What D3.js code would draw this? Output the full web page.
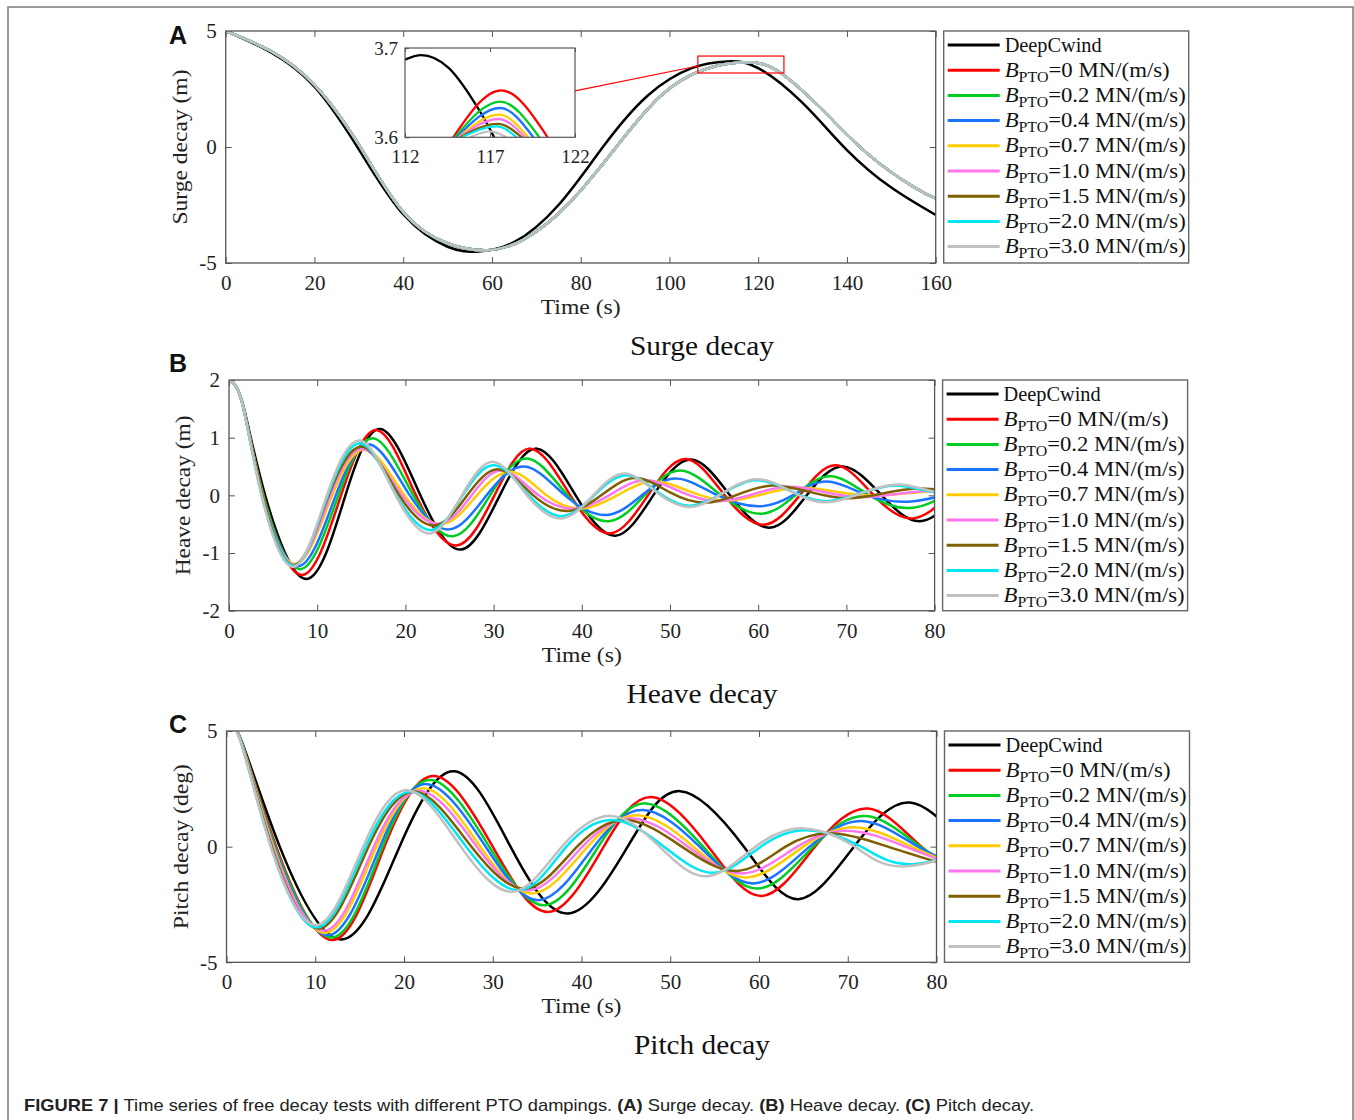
<!DOCTYPE html>
<html><head><meta charset="utf-8">
<script src="https://cdn.jsdelivr.net/npm/d3@7"></script>
<style>body{margin:0;background:#fff;} svg{display:block}</style>
</head><body>
<svg id="fig" width="1354" height="1120"></svg>
<script>
// ---------------- DATA ----------------
const xTicksA = [0,20,40,60,80,100,120,140,160];
const yTicksA = [-5,0,5];
const xTicksBC = [0,10,20,30,40,50,60,70,80];
const yTicksB = [-2,-1,0,1,2];
const yTicksC = [-5,0,5];
const insetXTicks = [112,117,122];
const insetYTicks = [3.6,3.7];
const seriesLabels = ["DeepCwind","0","0.2","0.4","0.7","1.0","1.5","2.0","3.0"];

// Surge decay (t [s], x [m])
const surgeBlack = [[0,5],[10,4.1],[20,2.6],[30,-0.1],[40,-2.9],[50,-4.3],[57,-4.5],[65,-4.1],[75,-2.5],[85,0.0],[95,2.2],[105,3.4],[113,3.69],[120,3.4],[130,1.9],[140,-0.13],[150,-1.75],[160,-2.93]];
const surgeBPTO = [[0,5],[10,4.15],[20,2.68],[30,0.1],[40,-2.8],[50,-4.15],[59,-4.45],[67,-4.0],[77,-2.5],[88,0.0],[98,2.2],[108,3.35],[117.5,3.65],[125,3.2],[135,1.5],[145,-0.35],[155,-1.72],[160,-2.22]];
// inset (zoom of the surge peak)
const insetBlack = [[112,3.687],[112.95,3.692],[114.55,3.678],[115.92,3.644],[117.24,3.6],[117.6,3.585]];
const insetBPTO = [
  [[114.84,3.6],[117.65,3.6526],[120.39,3.6]],
  [[114.94,3.6],[117.6,3.640],[119.9,3.6]],
  [[115.04,3.6],[117.6,3.6328],[119.55,3.6]],
  [[115.14,3.6],[117.55,3.6253],[119.25,3.6]],
  [[115.2,3.6],[117.5,3.6205],[119.05,3.6]],
  [[115.24,3.6],[117.45,3.615],[118.86,3.6]],
  [[115.33,3.6],[117.4,3.6123],[118.57,3.6]],
  [[115.82,3.6],[117.0,3.6067],[117.98,3.6]]
];
const zoomBox = [106.4,125.8,3.19,3.92]; // t0,t1,v0,v1

// Heave decay (t [s], z [m])
const heaveBlack = [[0,2.0],[1.5,1.62],[4.1,0],[8.8,-1.45],[13.2,0],[17.2,1.15],[21.7,0],[26.3,-0.94],[30.7,0],[34.9,0.81],[39.3,0],[43.8,-0.70],[48.1,0],[52.4,0.62],[56.8,0],[61.3,-0.56],[65.5,0],[69.6,0.50],[74.0,0],[78.3,-0.45],[82.6,0]];
const heave0 = [[0,2.0],[1.5,1.6],[3.9,0],[8.3,-1.38],[12.7,0],[16.8,1.13],[21.2,0],[25.8,-0.87],[30.1,0],[34.2,0.81],[38.7,0],[43.2,-0.66],[47.5,0],[51.8,0.63],[56.2,0],[60.6,-0.51],[64.7,0],[68.8,0.52],[73.1,0],[77.4,-0.40],[81.7,0]];
const heave02 = [[0,2.0],[1.5,1.6],[3.9,0],[8.1,-1.28],[12.4,0],[16.4,0.99],[20.9,0],[25.4,-0.71],[29.6,0],[33.8,0.64],[38.4,0],[43.0,-0.45],[47.1,0],[51.2,0.43],[55.8,0],[60.3,-0.32],[64.2,0],[68.2,0.33],[72.6,0],[77.1,-0.22],[81.3,0]];
const heave04 = [[0,2.0],[1.5,1.6],[3.8,0],[7.9,-1.23],[12.1,0],[16.0,0.88],[20.5,0],[25.0,-0.59],[29.2,0],[33.5,0.50],[38.1,0],[42.8,-0.34],[46.8,0],[50.8,0.29],[55.4,0],[60.1,-0.19],[63.9,0],[67.8,0.24],[72.4,0],[77.0,-0.11],[81,0]];
const heave07 = [[0,2.0],[1.5,1.6],[3.8,0],[7.6,-1.19],[11.7,0],[15.6,0.79],[19.9,0],[24.2,-0.50],[28.1,0],[32.0,0.41],[36.0,0],[40.0,-0.23],[44.0,0],[48.0,0.24],[52.2,0.07],[56.4,-0.09],[60.5,0.02],[64.7,0.13],[69.0,0.06],[73.2,0.0],[77,0.04],[81,0.08]];
const heave10 = [[0,2.0],[1.5,1.6],[3.8,0],[7.5,-1.2],[11.5,0],[15.3,0.80],[19.6,0],[23.9,-0.49],[27.5,0],[31.0,0.43],[35.1,0],[39.2,-0.23],[43.1,0],[47.0,0.26],[51.1,0.07],[55.3,-0.10],[59.4,0.02],[63.5,0.15],[67.7,0.05],[72.0,-0.03],[76,0.03],[80,0.09]];
const heave15 = [[0,2.0],[1.5,1.6],[3.8,0],[7.4,-1.21],[11.3,0],[15.2,0.84],[19.3,0],[23.4,-0.52],[27.0,0],[30.6,0.45],[34.5,0],[38.5,-0.27],[42.2,0],[46.0,0.30],[50.0,0.05],[54.0,-0.13],[57.8,0.02],[61.6,0.17],[65.8,0.06],[70.0,-0.05],[74,0.03],[78.0,0.12],[82,0.07]];
const heave20 = [[0,2.0],[1.5,1.6],[3.7,0],[7.4,-1.22],[11.2,0],[15.0,0.90],[19.0,0],[23.0,-0.60],[26.5,0],[30.1,0.52],[34.0,0],[37.8,-0.36],[41.4,0],[45.0,0.35],[48.7,0.05],[52.3,-0.18],[56.0,0.04],[59.8,0.26],[63.6,0.08],[67.4,-0.10],[71.5,0.03],[75.5,0.17],[79.3,0.07],[83,0.0]];
const heave30 = [[0,2.0],[1.5,1.6],[3.7,0],[7.3,-1.24],[11.1,0],[14.9,0.95],[18.9,0],[22.8,-0.66],[26.4,0],[30.0,0.58],[33.8,0],[37.7,-0.40],[41.3,0],[44.8,0.38],[48.5,0.05],[52.3,-0.20],[56.0,0.04],[59.8,0.28],[63.6,0.08],[67.4,-0.12],[71.5,0.03],[75.7,0.19],[79.5,0.08],[83,0.0]];

// Pitch decay (t [s], theta [deg])
const pitchBlack = [[0,5],[1.5,4.75],[6.0,0],[13.0,-4.01],[19.5,0],[25.7,3.26],[32.0,0],[38.5,-2.89],[45.2,0],[51.1,2.40],[58.3,0],[64.4,-2.27],[70.7,0],[77.0,1.91],[83.5,0],[90,-1.8]];
const pitch0 = [[0,5],[1.5,4.72],[5.6,0],[12.0,-4.04],[17.8,0],[23.5,3.05],[30.0,0],[36.3,-2.82],[42.5,0],[47.9,2.15],[54.3,0],[60.3,-2.13],[66.3,0],[72.3,1.65],[78.3,0],[84.3,-1.6]];
const pitch02 = [[0,5],[1.5,4.72],[5.5,0],[11.9,-3.93],[17.6,0],[23.1,2.88],[29.6,0],[35.9,-2.53],[41.9,0],[47.3,1.87],[53.7,0],[59.9,-1.81],[66.1,0],[72.1,1.32],[78.2,0],[84.0,-1.3]];
const pitch04 = [[0,5],[1.5,4.7],[5.4,0],[11.5,-3.83],[17.3,0],[22.7,2.70],[29.2,0],[35.3,-2.31],[41.4,0],[47.0,1.58],[53.3,0],[59.4,-1.59],[65.7,0],[71.8,1.10],[77.9,0],[83.8,-1.05]];
const pitch07 = [[0,5],[1.5,4.7],[5.3,0],[11.2,-3.73],[16.9,0],[22.4,2.52],[28.6,0],[34.6,-2.02],[40.7,0],[46.4,1.36],[52.6,0],[58.6,-1.33],[65.0,0],[71.0,0.83],[77.2,0],[83.0,-0.95]];
const pitch10 = [[0,5],[1.5,4.68],[5.2,0],[11.1,-3.63],[16.6,0],[22.0,2.41],[28.2,0],[34.2,-1.88],[40.1,0],[45.8,1.22],[52.0,0],[58.2,-1.16],[64.3,0],[70.3,0.68],[76.5,0],[82.5,-0.9]];
const pitch15 = [[0,5],[1.5,4.67],[5.1,0],[10.5,-3.54],[16.0,0],[21.4,2.37],[27.6,0],[33.8,-1.81],[39.5,0],[45.1,1.15],[51.3,0],[57.5,-1.05],[63.0,0],[68.4,0.57],[74.5,0],[80.5,-0.72]];
const pitch20 = [[0,5],[1.5,4.66],[5.0,0],[10.3,-3.49],[15.7,0],[21.0,2.37],[27.0,0],[33.1,-1.88],[38.3,0],[43.6,1.15],[49.3,0],[54.9,-1.13],[60.2,0],[65.4,0.71],[71.5,0],[77.5,-0.75],[88,0.5]];
const pitch30 = [[0,5],[1.5,4.65],[5.0,0],[10.2,-3.39],[15.4,0],[20.5,2.44],[26.4,0],[32.3,-1.95],[37.8,0],[43.4,1.33],[48.8,0],[54.1,-1.28],[59.6,0],[65.0,0.79],[70.8,0],[76.5,-0.85],[88,0.4]];

// ---------------- STYLE / LAYOUT ----------------
const colors = ["#000000","#ff0000","#00cc22","#1a74ff","#ffcc00","#ff77ee","#7f6000","#00e6f2","#c0c0c0"];
const serif = "'Liberation Serif','Times New Roman',serif";
const axisColor = "#555";

const panels = [
  {id:"A", left:225.7, right:935.7, top:31, bottom:263, xDomain:[0,160], yDomain:[-5,5], xTicks:xTicksA, yTicks:yTicksA,
   yLabel:"Surge decay (m)", yLabelLen:155, title:"Surge decay", titleLen:144, labelY:44,
   series:[surgeBlack,surgeBPTO,surgeBPTO,surgeBPTO,surgeBPTO,surgeBPTO,surgeBPTO,surgeBPTO,surgeBPTO]},
  {id:"B", left:229, right:934.6, top:380, bottom:610.7, xDomain:[0,80], yDomain:[-2,2], xTicks:xTicksBC, yTicks:yTicksB,
   yLabel:"Heave decay (m)", yLabelLen:160, title:"Heave decay", titleLen:151, labelY:372,
   series:[heaveBlack,heave0,heave02,heave04,heave07,heave10,heave15,heave20,heave30]},
  {id:"C", left:226.5, right:936.5, top:731, bottom:962.3, xDomain:[0,80], yDomain:[-5,5], xTicks:xTicksBC, yTicks:yTicksC,
   yLabel:"Pitch decay (deg)", yLabelLen:165, title:"Pitch decay", titleLen:136, labelY:733,
   series:[pitchBlack,pitch0,pitch02,pitch04,pitch07,pitch10,pitch15,pitch20,pitch30]}
];

const svg = d3.select("#fig");
svg.append("rect").attr("width",1354).attr("height",1120).attr("fill","#fff");
// outer frame
svg.append("path").attr("d","M8,1130V7H1353V1130").attr("fill","none").attr("stroke","#7a7a7a").attr("stroke-width",1.5);

function styleAxis(g, fs){
  g.select(".domain").remove();
  g.selectAll(".tick line").attr("stroke",axisColor).attr("stroke-width",1);
  g.selectAll(".tick text").attr("font-family",serif).attr("font-size",fs).attr("fill","#222");
}

panels.forEach((p,pi)=>{
  const x = d3.scaleLinear().domain(p.xDomain).range([p.left,p.right]);
  const y = d3.scaleLinear().domain(p.yDomain).range([p.bottom,p.top]);
  const W = p.right-p.left, H = p.bottom-p.top;
  const clipId = "clip"+p.id;
  svg.append("clipPath").attr("id",clipId).append("rect").attr("x",p.left).attr("y",p.top).attr("width",W).attr("height",H);

  // axes
  const gx = svg.append("g").attr("transform",`translate(0,${p.bottom})`)
    .call(d3.axisBottom(x).tickValues(p.xTicks).tickSizeInner(-6).tickSizeOuter(0).tickPadding(12).tickFormat(d3.format("d")));
  styleAxis(gx,21);
  const gxt = svg.append("g").attr("transform",`translate(0,${p.top})`)
    .call(d3.axisTop(x).tickValues(p.xTicks).tickSizeInner(-6).tickSizeOuter(0).tickFormat(""));
  styleAxis(gxt,21);
  const gy = svg.append("g").attr("transform",`translate(${p.left},0)`)
    .call(d3.axisLeft(y).tickValues(p.yTicks).tickSizeInner(-6).tickSizeOuter(0).tickPadding(9).tickFormat(d=>String(d)));
  styleAxis(gy,21);
  const gyr = svg.append("g").attr("transform",`translate(${p.right},0)`)
    .call(d3.axisRight(y).tickValues(p.yTicks).tickSizeInner(-6).tickSizeOuter(0).tickFormat(""));
  styleAxis(gyr,21);

  // lines
  const line = d3.line().x(d=>x(d[0])).y(d=>y(d[1])).curve(d3.curveNatural);
  const lg = svg.append("g").attr("clip-path",`url(#${clipId})`);
  p.series.forEach((s,i)=>{
    lg.append("path").attr("d",line(s)).attr("fill","none").attr("stroke",colors[i])
      .attr("stroke-width",2.5).attr("stroke-linejoin","round");
  });

  // box
  svg.append("rect").attr("x",p.left).attr("y",p.top).attr("width",W).attr("height",H)
    .attr("fill","none").attr("stroke",axisColor).attr("stroke-width",1.3);

  // axis titles
  svg.append("text").attr("x",(p.left+p.right)/2).attr("y",p.bottom+51).attr("text-anchor","middle")
    .attr("font-family",serif).attr("font-size",21).attr("fill","#222")
    .attr("textLength",80).attr("lengthAdjust","spacingAndGlyphs").text("Time (s)");
  svg.append("text").attr("transform",`translate(${p.left-39},${(p.top+p.bottom)/2}) rotate(-90)`).attr("text-anchor","middle")
    .attr("font-family",serif).attr("font-size",22).attr("fill","#222")
    .attr("textLength",p.yLabelLen).attr("lengthAdjust","spacingAndGlyphs").text(p.yLabel);
  svg.append("text").attr("x",702).attr("y",p.bottom+92).attr("text-anchor","middle")
    .attr("font-family",serif).attr("font-size",27).attr("fill","#111")
    .attr("textLength",p.titleLen).attr("lengthAdjust","spacingAndGlyphs").text(p.title);
  // panel label
  svg.append("text").attr("x",169).attr("y",p.labelY).attr("font-family","'Liberation Sans',Arial,sans-serif")
    .attr("font-weight","bold").attr("font-size",25).attr("fill","#111").text(p.id);

  // legend
  const bx = p.right+8, bw = 245;
  svg.append("rect").attr("x",bx).attr("y",p.top).attr("width",bw).attr("height",H)
    .attr("fill","#fff").attr("stroke","#666").attr("stroke-width",1.4);
  seriesLabels.forEach((lab,i)=>{
    const cy = p.top+14+i*25.2;
    svg.append("line").attr("x1",bx+4).attr("x2",bx+56).attr("y1",cy).attr("y2",cy)
      .attr("stroke",colors[i]).attr("stroke-width",3);
    const t = svg.append("text").attr("x",bx+61).attr("y",cy+6.5).attr("font-family",serif)
      .attr("font-size",20).attr("fill","#111");
    if(i===0){
      t.attr("textLength",97).attr("lengthAdjust","spacingAndGlyphs").text(lab);
    } else {
      t.append("tspan").attr("font-style","italic").text("B");
      t.append("tspan").attr("font-size",14).attr("dy",5).text("PTO");
      t.append("tspan").attr("dy",-5).text("="+lab+" MN/(m/s)");
      t.attr("textLength", lab.length===1?165:181).attr("lengthAdjust","spacingAndGlyphs");
    }
  });

  // inset for panel A
  if(p.id==="A"){
    const ix = d3.scaleLinear().domain([112,122]).range([405,575]);
    const iy = d3.scaleLinear().domain([3.6,3.7]).range([137.3,48]);
    svg.append("rect").attr("x",405).attr("y",48).attr("width",170).attr("height",89.3).attr("fill","#fff");
    svg.append("clipPath").attr("id","clipInset").append("rect").attr("x",405).attr("y",48).attr("width",170).attr("height",89.3);
    const il = d3.line().x(d=>ix(d[0])).y(d=>iy(d[1])).curve(d3.curveMonotoneX);
    const ig = svg.append("g").attr("clip-path","url(#clipInset)");
    ig.append("path").attr("d",il(insetBlack)).attr("fill","none").attr("stroke",colors[0]).attr("stroke-width",2.3);
    insetBPTO.forEach((s,i)=>{
      ig.append("path").attr("d",il(s)).attr("fill","none").attr("stroke",colors[i+1]).attr("stroke-width",2.3);
    });
    const ax = svg.append("g").attr("transform","translate(0,137.3)")
      .call(d3.axisBottom(ix).tickValues(insetXTicks).tickSizeInner(-4).tickSizeOuter(0).tickPadding(12).tickFormat(d3.format("d")));
    styleAxis(ax,19);
    const axt = svg.append("g").attr("transform","translate(0,48)")
      .call(d3.axisTop(ix).tickValues(insetXTicks).tickSizeInner(-4).tickSizeOuter(0).tickFormat(""));
    styleAxis(axt,19);
    const ay = svg.append("g").attr("transform","translate(405,0)")
      .call(d3.axisLeft(iy).tickValues(insetYTicks).tickSizeInner(-4).tickSizeOuter(0).tickPadding(7).tickFormat(d3.format(".1f")));
    styleAxis(ay,19);
    svg.append("rect").attr("x",405).attr("y",48).attr("width",170).attr("height",89.3)
      .attr("fill","none").attr("stroke",axisColor).attr("stroke-width",1.2);
    // zoom rectangle and connector
    svg.append("rect").attr("x",x(zoomBox[0])).attr("y",y(zoomBox[3])).attr("width",x(zoomBox[1])-x(zoomBox[0]))
      .attr("height",y(zoomBox[2])-y(zoomBox[3])).attr("fill","none").attr("stroke","#ff0000").attr("stroke-width",1.2);
    svg.append("line").attr("x1",ix(122)).attr("y1",iy(3.652)).attr("x2",x(zoomBox[0])).attr("y2",y(3.49))
      .attr("stroke","#ff0000").attr("stroke-width",1.2);
  }
});

// caption
const cap = svg.append("text").attr("x",24).attr("y",1111).attr("font-family","'Liberation Sans',Arial,sans-serif")
  .attr("font-size",17).attr("fill","#222").attr("textLength",1010).attr("lengthAdjust","spacingAndGlyphs");
cap.append("tspan").attr("font-weight","bold").text("FIGURE 7 | ");
cap.append("tspan").text("Time series of free decay tests with different PTO dampings. ");
cap.append("tspan").attr("font-weight","bold").text("(A)");
cap.append("tspan").text(" Surge decay. ");
cap.append("tspan").attr("font-weight","bold").text("(B)");
cap.append("tspan").text(" Heave decay. ");
cap.append("tspan").attr("font-weight","bold").text("(C)");
cap.append("tspan").text(" Pitch decay.");
</script>
</body></html>
